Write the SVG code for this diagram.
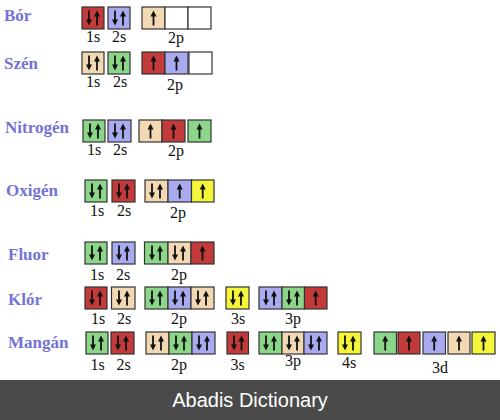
<svg xmlns="http://www.w3.org/2000/svg" xmlns:xlink="http://www.w3.org/1999/xlink" width="500" height="420" viewBox="0 0 500 420">
<style>
.bx{stroke:#333;stroke-width:1.2}
.r{fill:#c23a3a}.l{fill:#aaaaf0}.t{fill:#f2d9b3}.g{fill:#8cd68a}.y{fill:#f5f53a}.w{fill:#fff}
.el{font-family:"Liberation Serif","Times New Roman",serif;font-weight:bold;font-size:17px;fill:#7373d6}
.sub{font-family:"Liberation Serif","Times New Roman",serif;font-size:16px;fill:#111;text-anchor:middle}
.ft{font-family:"Liberation Sans",Arial,sans-serif;font-size:20px;fill:#fff;text-anchor:middle}
</style>
<defs>
<g id="up"><line x1="0" y1="15" x2="0" y2="4" stroke="#111" stroke-width="1.8"/><path d="M-3,6 L0,0 L3,6 Z" fill="#111"/></g>
<g id="dn"><line x1="0" y1="0" x2="0" y2="11" stroke="#111" stroke-width="1.8"/><path d="M-3,9 L0,15 L3,9 Z" fill="#111"/></g>
</defs>
<rect width="500" height="420" fill="#fff"/>

<g id="bor">
<text class="el" x="4" y="21">Bór</text>
<rect class="bx r" x="82" y="7" width="22" height="22"/><use href="#dn" x="89" y="10.5"/><use href="#up" x="97" y="10.5"/>
<rect class="bx l" x="108" y="7" width="22" height="22"/><use href="#dn" x="115" y="10.5"/><use href="#up" x="123" y="10.5"/>
<rect class="bx t" x="142" y="7" width="23" height="22"/><use href="#up" x="153.5" y="10.5"/>
<rect class="bx w" x="165" y="7" width="23" height="22"/>
<rect class="bx w" x="188" y="7" width="23" height="22"/>
<text class="sub" x="93" y="42">1s</text><text class="sub" x="119" y="42">2s</text><text class="sub" x="176" y="43">2p</text>
</g>

<g id="szen">
<text class="el" x="4" y="69">Szén</text>
<rect class="bx t" x="82" y="52" width="22" height="22"/><use href="#dn" x="89" y="55.5"/><use href="#up" x="97" y="55.5"/>
<rect class="bx g" x="108" y="52" width="22" height="22"/><use href="#dn" x="115" y="55.5"/><use href="#up" x="123" y="55.5"/>
<rect class="bx r" x="142" y="52" width="23" height="22"/><use href="#up" x="153.5" y="55.5"/>
<rect class="bx l" x="165" y="52" width="23" height="22"/><use href="#up" x="176.5" y="55.5"/>
<rect class="bx w" x="189" y="52" width="23" height="22"/>
<text class="sub" x="93" y="87">1s</text><text class="sub" x="120" y="87">2s</text><text class="sub" x="175" y="90">2p</text>
</g>

<g id="nitrogen">
<text class="el" x="5" y="133">Nitrogén</text>
<rect class="bx g" x="83" y="120" width="22" height="22"/><use href="#dn" x="90" y="123.5"/><use href="#up" x="98" y="123.5"/>
<rect class="bx l" x="108" y="120" width="23" height="22"/><use href="#dn" x="115" y="123.5"/><use href="#up" x="123" y="123.5"/>
<rect class="bx t" x="139" y="120" width="23" height="22"/><use href="#up" x="150.5" y="123.5"/>
<rect class="bx r" x="162" y="120" width="23" height="22"/><use href="#up" x="173.5" y="123.5"/>
<rect class="bx g" x="188" y="120" width="23" height="22"/><use href="#up" x="199.5" y="123.5"/>
<text class="sub" x="94" y="155">1s</text><text class="sub" x="120" y="155">2s</text><text class="sub" x="176" y="156">2p</text>
</g>

<g id="oxigen">
<text class="el" x="6" y="196">Oxigén</text>
<rect class="bx g" x="85" y="180" width="22" height="22"/><use href="#dn" x="92" y="183.5"/><use href="#up" x="100" y="183.5"/>
<rect class="bx r" x="112" y="180" width="23" height="22"/><use href="#dn" x="119" y="183.5"/><use href="#up" x="127" y="183.5"/>
<rect class="bx t" x="145" y="180" width="23" height="22"/><use href="#dn" x="152" y="183.5"/><use href="#up" x="160" y="183.5"/>
<rect class="bx l" x="168" y="180" width="23.5" height="22"/><use href="#up" x="179.7" y="183.5"/>
<rect class="bx y" x="191.5" y="180" width="22.5" height="22"/><use href="#up" x="202.7" y="183.5"/>
<text class="sub" x="97" y="216">1s</text><text class="sub" x="124" y="216">2s</text><text class="sub" x="178" y="218">2p</text>
</g>

<g id="fluor">
<text class="el" x="8" y="260">Fluor</text>
<rect class="bx g" x="85" y="242" width="22" height="22"/><use href="#dn" x="92" y="245.5"/><use href="#up" x="100" y="245.5"/>
<rect class="bx l" x="112" y="242" width="23" height="22"/><use href="#dn" x="119" y="245.5"/><use href="#up" x="127" y="245.5"/>
<rect class="bx g" x="144.5" y="242" width="23.5" height="22"/><use href="#dn" x="152" y="245.5"/><use href="#up" x="160" y="245.5"/>
<rect class="bx t" x="168" y="242" width="23" height="22"/><use href="#dn" x="175" y="245.5"/><use href="#up" x="183" y="245.5"/>
<rect class="bx r" x="191" y="242" width="23" height="22"/><use href="#up" x="202.5" y="245.5"/>
<text class="sub" x="97" y="280">1s</text><text class="sub" x="123" y="280">2s</text><text class="sub" x="179" y="280">2p</text>
</g>

<g id="klor">
<text class="el" x="8" y="305">Klór</text>
<rect class="bx r" x="85" y="287" width="22" height="22"/><use href="#dn" x="92" y="290.5"/><use href="#up" x="100" y="290.5"/>
<rect class="bx t" x="111.5" y="287" width="23.5" height="22"/><use href="#dn" x="119" y="290.5"/><use href="#up" x="127" y="290.5"/>
<rect class="bx g" x="145" y="287" width="23" height="22"/><use href="#dn" x="152" y="290.5"/><use href="#up" x="160" y="290.5"/>
<rect class="bx l" x="168" y="287" width="23" height="22"/><use href="#dn" x="175" y="290.5"/><use href="#up" x="183" y="290.5"/>
<rect class="bx t" x="191" y="287" width="23" height="22"/><use href="#dn" x="198" y="290.5"/><use href="#up" x="206" y="290.5"/>
<rect class="bx y" x="226" y="287" width="23" height="22"/><use href="#dn" x="233" y="290.5"/><use href="#up" x="241" y="290.5"/>
<rect class="bx l" x="259" y="287" width="23" height="22"/><use href="#dn" x="266" y="290.5"/><use href="#up" x="274" y="290.5"/>
<rect class="bx g" x="282" y="287" width="22.5" height="22"/><use href="#dn" x="289" y="290.5"/><use href="#up" x="297" y="290.5"/>
<rect class="bx r" x="304.5" y="287" width="22.5" height="22"/><use href="#up" x="315.7" y="290.5"/>
<text class="sub" x="98" y="324">1s</text><text class="sub" x="124" y="324">2s</text><text class="sub" x="179" y="324">2p</text>
<text class="sub" x="238" y="324">3s</text><text class="sub" x="293" y="324">3p</text>
</g>

<g id="mangan">
<text class="el" x="8" y="348">Mangán</text>
<rect class="bx g" x="86" y="332" width="22" height="22"/><use href="#dn" x="93" y="335.5"/><use href="#up" x="101" y="335.5"/>
<rect class="bx r" x="111" y="332" width="23" height="22"/><use href="#dn" x="118" y="335.5"/><use href="#up" x="126" y="335.5"/>
<rect class="bx t" x="146" y="332" width="23" height="22"/><use href="#dn" x="153" y="335.5"/><use href="#up" x="161" y="335.5"/>
<rect class="bx g" x="169" y="332" width="23" height="22"/><use href="#dn" x="176" y="335.5"/><use href="#up" x="184" y="335.5"/>
<rect class="bx l" x="192" y="332" width="23" height="22"/><use href="#dn" x="199" y="335.5"/><use href="#up" x="207" y="335.5"/>
<rect class="bx r" x="227" y="332" width="21.5" height="22"/><use href="#dn" x="234" y="335.5"/><use href="#up" x="241.5" y="335.5"/>
<rect class="bx g" x="259" y="332" width="23" height="22"/><use href="#dn" x="266" y="335.5"/><use href="#up" x="274" y="335.5"/>
<rect class="bx t" x="282" y="332" width="22" height="22"/><use href="#dn" x="289" y="335.5"/><use href="#up" x="297" y="335.5"/>
<rect class="bx l" x="304" y="332" width="23" height="22"/><use href="#dn" x="311" y="335.5"/><use href="#up" x="319" y="335.5"/>
<rect class="bx y" x="338" y="332" width="23" height="22"/><use href="#dn" x="345" y="335.5"/><use href="#up" x="353" y="335.5"/>
<rect class="bx g" x="374" y="332" width="22.5" height="22"/><use href="#up" x="385.2" y="335.5"/>
<rect class="bx r" x="398" y="332" width="22" height="22"/><use href="#up" x="409" y="335.5"/>
<rect class="bx l" x="423" y="332" width="22.5" height="22"/><use href="#up" x="434.2" y="335.5"/>
<rect class="bx t" x="448" y="332" width="22" height="22"/><use href="#up" x="459" y="335.5"/>
<rect class="bx y" x="472" y="332" width="23" height="22"/><use href="#up" x="483.5" y="335.5"/>
<text class="sub" x="97.5" y="370">1s</text><text class="sub" x="123.5" y="370">2s</text><text class="sub" x="179" y="370">2p</text>
<text class="sub" x="237.5" y="370">3s</text><text class="sub" x="293" y="366">3p</text><text class="sub" x="349" y="368">4s</text><text class="sub" x="440" y="373">3d</text>
</g>

<g id="footer">
<rect x="0" y="380" width="500" height="40" fill="#4a4a4a"/>
<text class="ft" x="250" y="407">Abadis Dictionary</text>
</g>
<g id="connectors"/>
</svg>
